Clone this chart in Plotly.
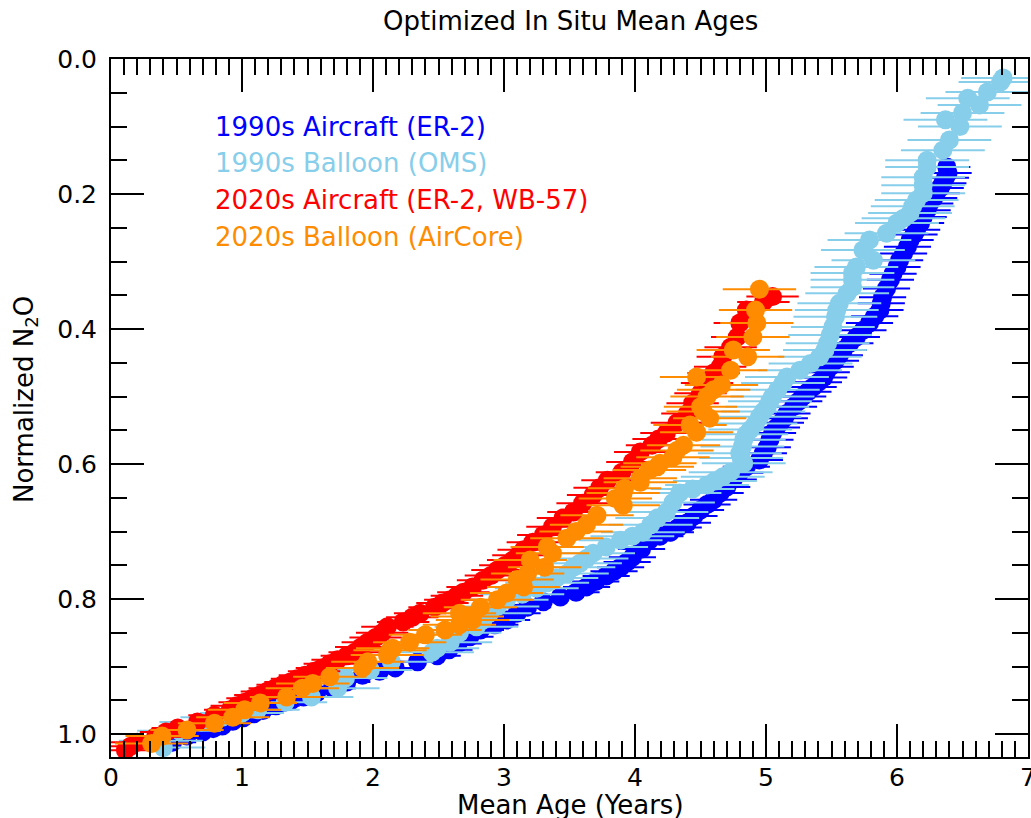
import plotly.graph_objects as go

# ---------------- data ----------------
blue_n2o = [1.012, 1.003, 0.997, 0.992, 0.988, 0.981, 0.976, 0.970, 0.965, 0.958, 0.951, 0.945, 0.939, 0.932,
            0.923, 0.913, 0.907, 0.902, 0.893, 0.884, 0.875, 0.866, 0.856, 0.846, 0.838, 0.831, 0.821, 0.812,
            0.804, 0.797, 0.790, 0.782, 0.774, 0.766, 0.759, 0.753, 0.745, 0.738, 0.726, 0.713, 0.707, 0.701,
            0.694, 0.687, 0.677, 0.668, 0.660, 0.653, 0.643, 0.634, 0.623, 0.613, 0.604, 0.594, 0.584, 0.575,
            0.564, 0.554, 0.546, 0.539, 0.532, 0.525, 0.515, 0.507, 0.500, 0.493, 0.486, 0.479, 0.472, 0.464,
            0.456, 0.447, 0.439, 0.431, 0.421, 0.412, 0.402, 0.391, 0.381, 0.372, 0.362, 0.353, 0.340, 0.327,
            0.318, 0.308, 0.298, 0.288, 0.278, 0.268, 0.260, 0.253, 0.243, 0.234, 0.224, 0.214, 0.206, 0.199,
            0.191, 0.184, 0.176, 0.169, 0.160]
blue_age = [0.47, 0.58, 0.70, 0.78, 0.85, 0.93, 1.01, 1.09, 1.16, 1.26, 1.37, 1.47, 1.57, 1.69,
            1.80, 1.92, 2.05, 2.17, 2.34, 2.49, 2.58, 2.65, 2.74, 2.82, 2.93, 3.02, 3.10, 3.18,
            3.30, 3.43, 3.55, 3.63, 3.70, 3.78, 3.84, 3.89, 3.94, 3.98, 4.05, 4.11, 4.19, 4.27,
            4.33, 4.40, 4.45, 4.50, 4.55, 4.60, 4.65, 4.70, 4.75, 4.80, 4.85, 4.95, 4.98, 5.01,
            5.03, 5.05, 5.08, 5.11, 5.14, 5.16, 5.21, 5.25, 5.28, 5.32, 5.36, 5.40, 5.44, 5.46,
            5.49, 5.53, 5.56, 5.59, 5.64, 5.69, 5.74, 5.79, 5.83, 5.87, 5.88, 5.89, 5.92, 5.95,
            5.97, 6.00, 6.02, 6.05, 6.08, 6.10, 6.13, 6.15, 6.18, 6.20, 6.23, 6.25, 6.28, 6.30,
            6.33, 6.35, 6.37, 6.39, 6.38]

sky_n2o = [1.020, 1.010, 0.995, 0.982, 0.975, 0.969, 0.964, 0.953, 0.945, 0.932, 0.917, 0.905, 0.893, 0.879,
           0.873, 0.864, 0.850, 0.841, 0.831, 0.821, 0.811, 0.801, 0.793, 0.784, 0.776, 0.769, 0.762, 0.753,
           0.747, 0.740, 0.732, 0.723, 0.713, 0.707, 0.701, 0.690, 0.680, 0.671, 0.657, 0.643, 0.637, 0.631,
           0.625, 0.619, 0.612, 0.599, 0.591, 0.584, 0.574, 0.564, 0.556, 0.549, 0.540, 0.530, 0.522, 0.515,
           0.507, 0.500, 0.490, 0.480, 0.471, 0.461, 0.451, 0.441, 0.431, 0.421, 0.409, 0.397, 0.382, 0.372,
           0.362, 0.347, 0.338, 0.327, 0.317, 0.308, 0.298, 0.283, 0.268, 0.258, 0.243, 0.236, 0.228, 0.218,
           0.209, 0.199, 0.187, 0.175, 0.160, 0.150, 0.135, 0.120, 0.100, 0.090, 0.080, 0.068, 0.058, 0.049,
           0.034, 0.028]
sky_age = [0.40, 0.38, 0.52, 0.69, 0.85, 1.00, 1.12, 1.33, 1.53, 1.73, 1.79, 1.98, 2.14, 2.45,
           2.49, 2.59, 2.66, 2.79, 2.84, 2.89, 2.95, 3.02, 3.14, 3.25, 3.33, 3.40, 3.48, 3.53,
           3.58, 3.63, 3.68, 3.78, 3.89, 3.98, 4.06, 4.12, 4.17, 4.24, 4.29, 4.34, 4.44, 4.55,
           4.61, 4.67, 4.73, 4.83, 4.81, 4.80, 4.82, 4.83, 4.85, 4.88, 4.92, 4.95, 4.98, 5.01,
           5.03, 5.05, 5.09, 5.13, 5.16, 5.26, 5.34, 5.41, 5.45, 5.47, 5.49, 5.51, 5.53, 5.54,
           5.56, 5.62, 5.66, 5.66, 5.66, 5.69, 5.82, 5.74, 5.79, 5.92, 6.00, 6.05, 6.10, 6.12,
           6.15, 6.20, 6.20, 6.20, 6.23, 6.23, 6.35, 6.40, 6.48, 6.37, 6.50, 6.63, 6.54, 6.69,
           6.79, 6.81]

red_n2o = [1.024, 1.018, 1.012, 1.004, 0.997, 0.991, 0.982, 0.972, 0.964, 0.958, 0.953, 0.947, 0.942, 0.937,
           0.932, 0.927, 0.923, 0.918, 0.913, 0.907, 0.902, 0.896, 0.890, 0.884, 0.879, 0.871, 0.864, 0.857,
           0.850, 0.841, 0.834, 0.827, 0.821, 0.812, 0.806, 0.801, 0.795, 0.790, 0.782, 0.772, 0.765, 0.757,
           0.750, 0.742, 0.735, 0.727, 0.716, 0.705, 0.693, 0.680, 0.671, 0.658, 0.646, 0.635, 0.624, 0.612,
           0.597, 0.582, 0.572, 0.563, 0.554, 0.539, 0.525, 0.510, 0.495, 0.480, 0.465, 0.456, 0.441, 0.427,
           0.412, 0.391, 0.372, 0.360, 0.352]
red_age = [0.11, 0.15, 0.20, 0.34, 0.42, 0.51, 0.66, 0.79, 0.91, 0.96, 1.02, 1.08, 1.14, 1.19,
           1.25, 1.31, 1.37, 1.42, 1.48, 1.55, 1.61, 1.67, 1.73, 1.80, 1.86, 1.91, 1.96, 2.02,
           2.07, 2.11, 2.23, 2.30, 2.36, 2.47, 2.53, 2.59, 2.64, 2.69, 2.76, 2.84, 2.90, 2.95,
           3.01, 3.07, 3.11, 3.15, 3.22, 3.30, 3.37, 3.45, 3.53, 3.60, 3.68, 3.73, 3.79, 3.90,
           3.98, 4.04, 4.13, 4.18, 4.24, 4.32, 4.40, 4.44, 4.50, 4.55, 4.60, 4.65, 4.67, 4.73,
           4.78, 4.80, 4.85, 4.98, 5.05]

orange_n2o = [1.014, 1.003, 0.994, 0.984, 0.975, 0.964, 0.954, 0.945, 0.932, 0.925, 0.915, 0.902, 0.893, 0.883,
              0.876, 0.873, 0.864, 0.853, 0.846, 0.838, 0.831, 0.826, 0.821, 0.812, 0.801, 0.791, 0.782, 0.771,
              0.762, 0.753, 0.742, 0.732, 0.723, 0.710, 0.700, 0.690, 0.676, 0.661, 0.651, 0.643, 0.636, 0.627,
              0.621, 0.609, 0.604, 0.599, 0.590, 0.580, 0.572, 0.553, 0.542, 0.532, 0.522, 0.515, 0.500, 0.490,
              0.483, 0.471, 0.461, 0.441, 0.431, 0.412, 0.391, 0.372, 0.341]
orange_age = [0.31, 0.39, 0.58, 0.79, 0.93, 1.02, 1.14, 1.34, 1.46, 1.54, 1.67, 1.92, 1.96, 2.11,
              2.13, 2.15, 2.28, 2.40, 2.55, 2.66, 2.76, 2.72, 2.66, 2.82, 2.95, 3.02, 3.15, 3.10,
              3.18, 3.31, 3.20, 3.37, 3.33, 3.48, 3.55, 3.63, 3.71, 3.91, 3.85, 3.91, 3.92, 4.04,
              4.04, 4.11, 4.17, 4.19, 4.29, 4.32, 4.37, 4.47, 4.42, 4.57, 4.52, 4.50, 4.55, 4.60,
              4.66, 4.47, 4.73, 4.86, 4.75, 4.90, 4.93, 4.92, 4.95]

series_names = ["1990s Aircraft (ER-2)", "1990s Balloon (OMS)",
                "2020s Aircraft (ER-2, WB-57)", "2020s Balloon (AirCore)"]
series_colors = ["#0000FF", "#87CEEB", "#FF0000", "#FF8C00"]
series_err = [0.18, 0.32, 0.20, 0.28]

x_ticks = [0, 1, 2, 3, 4, 5, 6, 7]
y_ticks = [0.0, 0.2, 0.4, 0.6, 0.8, 1.0]
y_tick_labels = ["0.0", "0.2", "0.4", "0.6", "0.8", "1.0"]

# ---------------- figure ----------------
W, H = 1031, 818
# plot area in screen pixels: x 111..1028, y 59..757
L, T = 111, 59
R = W - 1028
B = H - 757
pw, ph = W - L - R, H - T - B


def px_x(sx):
    return (sx - L) / pw


def px_y(sy):
    return 1 - (sy - T) / ph


fig = go.Figure()
data = [(blue_age, blue_n2o), (sky_age, sky_n2o), (red_age, red_n2o), (orange_age, orange_n2o)]
for (xs, ys), name, col, err in zip(data, series_names, series_colors, series_err):
    fig.add_trace(go.Scatter(
        x=xs, y=ys, mode="markers", name=name,
        marker=dict(color=col, size=19, line=dict(width=0)),
        error_x=dict(type="constant", value=err, width=0, thickness=2, color=col),
        showlegend=False,
    ))

font = "DejaVu Sans"
axis_common = dict(
    showline=True, linecolor="black", linewidth=2, mirror="allticks",
    ticks="inside", ticklen=33, tickwidth=2, tickcolor="black",
    showgrid=False, zeroline=False, automargin=False, ticklabeloverflow="allow",
    tickfont=dict(family=font, size=25, color="black"),
)
fig.update_xaxes(range=[0, 7], tickvals=x_ticks, ticklabelstandoff=-3,
                 minor=dict(dtick=0.1, ticks="inside", ticklen=16, tickwidth=2, tickcolor="black", showgrid=False),
                 **axis_common)
fig.update_yaxes(range=[1.034, 0], tickvals=y_ticks, ticktext=y_tick_labels, ticklabelstandoff=7,
                 minor=dict(dtick=0.05, ticks="inside", ticklen=16, tickwidth=2, tickcolor="black", showgrid=False),
                 **axis_common)

ann = []
leg_y = [127, 163, 200, 237]
for name, col, sy in zip(series_names, series_colors, leg_y):
    ann.append(dict(text=name, xref="paper", yref="paper", x=px_x(213), y=px_y(sy),
                    xanchor="left", yanchor="middle", showarrow=False,
                    font=dict(family=font, size=26, color=col)))
ann.append(dict(text="Mean Age (Years)", xref="paper", yref="paper", x=px_x(570), y=px_y(805),
                xanchor="center", yanchor="middle", showarrow=False,
                font=dict(family=font, size=26, color="black")))
ann.append(dict(text="Normalized N<sub>2</sub>O", xref="paper", yref="paper", x=px_x(25), y=px_y(400),
                xanchor="center", yanchor="middle", showarrow=False, textangle=-90,
                font=dict(family=font, size=26, color="black")))
ann.append(dict(text="Optimized In Situ Mean Ages", xref="paper", yref="paper", x=px_x(570), y=px_y(21),
                xanchor="center", yanchor="middle", showarrow=False,
                font=dict(family=font, size=26, color="black")))

fig.update_layout(
    width=W, height=H,
    margin=dict(l=L, r=R, t=T, b=B, autoexpand=False),
    paper_bgcolor="white", plot_bgcolor="white",
    annotations=ann,
)

# remove the default 8px page margin so the 1031x818 figure fills the window exactly
fig.write_html("out.html", config={"displayModeBar": False},
               post_script="document.body.style.margin='0';document.body.style.overflow='hidden';")
